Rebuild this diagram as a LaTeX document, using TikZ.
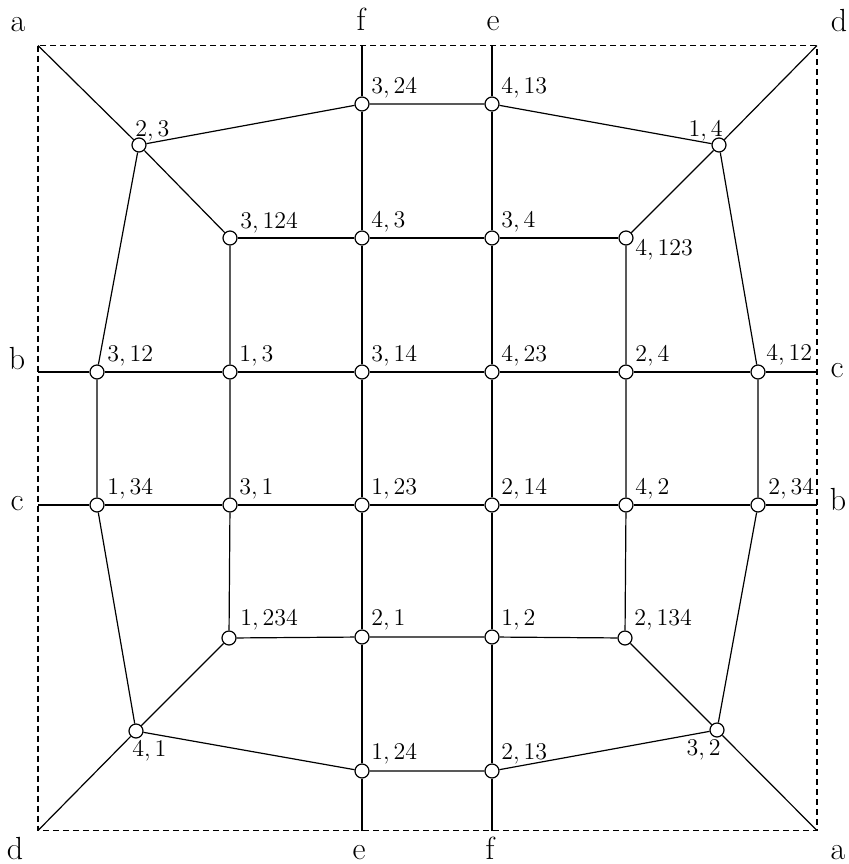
\documentclass[tikz,border=0pt]{standalone}
\begin{document}
\begin{tikzpicture}[x=0.5pt,y=-0.5pt,
  v/.style={circle,draw,fill=white,minimum size=7pt,inner sep=0pt,line width=0.6pt},
  lab/.style={inner sep=0pt,font=\fontsize{11.5}{13}\selectfont},
  side/.style={inner sep=0pt,font=\fontsize{16}{18}\selectfont,anchor=base},
  edge/.style={line width=0.6pt},
  border/.style={dash pattern=on 3pt off 2pt, line width=0.6pt}]
\useasboundingbox (0,0) rectangle (848,864);
% border
\coordinate (TL) at (38,45.5);
\coordinate (TR) at (817,45.5);
\coordinate (BL) at (38,830.5);
\coordinate (BR) at (817,830.5);
\coordinate (TF) at (362,45.5);
\coordinate (TE) at (492,45.5);
\coordinate (BE) at (362,830.5);
\coordinate (BF) at (492,830.5);
\coordinate (LB) at (38,372);
\coordinate (LC) at (38,505);
\coordinate (RC) at (817,372);
\coordinate (RB) at (817,505);
\draw[border] (TL) rectangle (BR);
% vertices
\node[v] (v23) at (139,145) {};
\node[v] (v324) at (362,104) {};
\node[v] (v413) at (492,104) {};
\node[v] (v14) at (719,145) {};
\node[v] (v3124) at (230,238) {};
\node[v] (v43) at (362,238) {};
\node[v] (v34) at (492,238) {};
\node[v] (v4123) at (626,238) {};
\node[v] (v312) at (97,372) {};
\node[v] (v13) at (230,372) {};
\node[v] (v314) at (362,372) {};
\node[v] (v423) at (492,372) {};
\node[v] (v24) at (626,372) {};
\node[v] (v412) at (758,372) {};
\node[v] (v134) at (97,505) {};
\node[v] (v31) at (230,505) {};
\node[v] (v123) at (362,505) {};
\node[v] (v214) at (492,505) {};
\node[v] (v42) at (626,505) {};
\node[v] (v234) at (758,505) {};
\node[v] (v1234) at (229,638) {};
\node[v] (v21) at (362,637) {};
\node[v] (v12) at (492,637) {};
\node[v] (v2134) at (625,638) {};
\node[v] (v41) at (136,731) {};
\node[v] (v124) at (362,771) {};
\node[v] (v213) at (492,771) {};
\node[v] (v32) at (717,730) {};
% edges
\draw[edge] (TL) -- (v23) -- (v3124);
\draw[edge] (v23) -- (v324) -- (v413) -- (v14) -- (TR);
\draw[edge] (v14) -- (v4123);
\draw[edge] (v23) -- (v312) -- (v134) -- (v41);
\draw[edge] (v14) -- (v412) -- (v234) -- (v32);
\draw[edge] (TF) -- (v324) -- (v43) -- (v314) -- (v123) -- (v21) -- (v124) -- (BE);
\draw[edge] (TE) -- (v413) -- (v34) -- (v423) -- (v214) -- (v12) -- (v213) -- (BF);
\draw[edge] (v3124) -- (v43) -- (v34) -- (v4123);
\draw[edge] (v3124) -- (v13) -- (v31) -- (v1234);
\draw[edge] (v4123) -- (v24) -- (v42) -- (v2134);
\draw[edge] (LB) -- (v312) -- (v13) -- (v314) -- (v423) -- (v24) -- (v412) -- (RC);
\draw[edge] (LC) -- (v134) -- (v31) -- (v123) -- (v214) -- (v42) -- (v234) -- (RB);
\draw[edge] (v1234) -- (v21) -- (v12) -- (v2134);
\draw[edge] (BL) -- (v41) -- (v1234);
\draw[edge] (v41) -- (v124) -- (v213) -- (v32) -- (BR);
\draw[edge] (v32) -- (v2134);
% labels
\node[lab,anchor=base west] (l23) at ([shift={(-4,-9)}]v23) {$2,3$};
\node[lab,anchor=base east] (l14) at ([shift={(4,-9)}]v14) {$1,4$};
\node[lab,anchor=base west] (l4123) at ([shift={(9,17)}]v4123) {$4,123$};
\node[lab,anchor=base west] (l41) at ([shift={(-4,25)}]v41) {$4,1$};
\node[lab,anchor=base east] (l32) at ([shift={(4,25)}]v32) {$3,2$};
\node[lab,anchor=base west] (l324) at ([shift={(9,-11)}]v324) {$3,24$};
\node[lab,anchor=base west] (l413) at ([shift={(9,-11)}]v413) {$4,13$};
\node[lab,anchor=base west] (l3124) at ([shift={(10,-10)}]v3124) {$3,124$};
\node[lab,anchor=base west] (l43) at ([shift={(9,-11)}]v43) {$4,3$};
\node[lab,anchor=base west] (l34) at ([shift={(9,-11)}]v34) {$3,4$};
\node[lab,anchor=base west] (l312) at ([shift={(10,-11)}]v312) {$3,12$};
\node[lab,anchor=base west] (l13) at ([shift={(9,-11)}]v13) {$1,3$};
\node[lab,anchor=base west] (l314) at ([shift={(9,-11)}]v314) {$3,14$};
\node[lab,anchor=base west] (l423) at ([shift={(9,-11)}]v423) {$4,23$};
\node[lab,anchor=base west] (l24) at ([shift={(9,-11)}]v24) {$2,4$};
\node[lab,anchor=base west] (l412) at ([shift={(8,-12)}]v412) {$4,12$};
\node[lab,anchor=base west] (l134) at ([shift={(10,-11)}]v134) {$1,34$};
\node[lab,anchor=base west] (l31) at ([shift={(9,-11)}]v31) {$3,1$};
\node[lab,anchor=base west] (l123) at ([shift={(9,-11)}]v123) {$1,23$};
\node[lab,anchor=base west] (l214) at ([shift={(9,-11)}]v214) {$2,14$};
\node[lab,anchor=base west] (l42) at ([shift={(9,-11)}]v42) {$4,2$};
\node[lab,anchor=base west] (l234) at ([shift={(10,-11)}]v234) {$2,34$};
\node[lab,anchor=base west] (l1234) at ([shift={(11,-13)}]v1234) {$1,234$};
\node[lab,anchor=base west] (l21) at ([shift={(9,-12)}]v21) {$2,1$};
\node[lab,anchor=base west] (l12) at ([shift={(9,-12)}]v12) {$1,2$};
\node[lab,anchor=base west] (l2134) at ([shift={(9,-13)}]v2134) {$2,134$};
\node[lab,anchor=base west] (l124) at ([shift={(9,-12)}]v124) {$1,24$};
\node[lab,anchor=base west] (l213) at ([shift={(9,-12)}]v213) {$2,13$};
% side letters
\node[side] (ta) at (18,31) {a};
\node[side] (tf) at (361,30) {f};
\node[side] (te) at (493,30) {e};
\node[side] (td) at (839,31) {d};
\node[side] (lb) at (17,369) {b};
\node[side] (lc) at (17,510) {c};
\node[side] (rc) at (837,377) {c};
\node[side] (rb) at (838,510) {b};
\node[side] (bd) at (15,859) {d};
\node[side] (be) at (359,859) {e};
\node[side] (bf) at (490,859) {f};
\node[side] (ba) at (838,859) {a};
\end{tikzpicture}
\end{document}
